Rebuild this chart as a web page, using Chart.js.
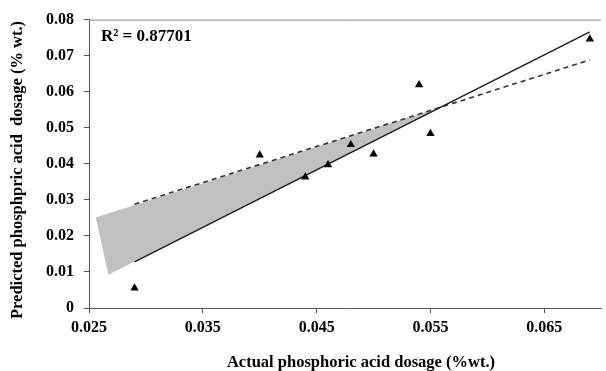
<!DOCTYPE html>
<html>
<head>
<meta charset="utf-8">
<script src="https://cdn.jsdelivr.net/npm/chart.js@4.4.1/dist/chart.umd.min.js"></script>
<style>
  html, body { margin: 0; padding: 0; background: #fff; }
  canvas { display: block; }
</style>
</head>
<body>
<canvas id="fit-chart" width="606" height="371"></canvas>
<script>
// Data
const actual = [0.029, 0.040, 0.044, 0.046, 0.048, 0.050, 0.054, 0.055, 0.069];
const predicted = [0.0055, 0.0424, 0.0363, 0.0397, 0.0453, 0.0427, 0.0619, 0.0484, 0.0746];

// fitted line (solid) and ideal / reference line (dashed)
const fitX = [0.029, 0.069];
const fitY = [0.0128, 0.0766];
const refY = [0.0288, 0.0688];

// grey band between the two lines
const bandX = [0.0256, 0.0267, 0.0559, 0.0256];
const bandY = [0.0251, 0.0092, 0.0557, 0.0251];

const xTicks = [0.025, 0.035, 0.045, 0.055, 0.065];
const yTicks = [0, 0.01, 0.02, 0.03, 0.04, 0.05, 0.06, 0.07, 0.08];
const rSquared = 'R² = 0.87701';
const xTitle = 'Actual phosphoric acid dosage (%wt.)';
const yTitle = 'Predicted phosphpric acid  dosage (% wt.)';

const FONT = '"Liberation Serif", "Times New Roman", serif';

const toPoints = (xs, ys) => xs.map((x, i) => ({ x: x, y: ys[i] }));

// Top border, R² label and axis titles
const extras = {
    id: 'extras',
    afterDraw(chart) {
        const { ctx, chartArea } = chart;
        ctx.save();
        ctx.strokeStyle = '#8a8a8a';
        ctx.lineWidth = 1;
        ctx.beginPath();
        ctx.moveTo(chartArea.left, chartArea.top + 0.5);
        ctx.lineTo(chartArea.right, chartArea.top + 0.5);
        ctx.stroke();

        ctx.fillStyle = '#000';
        ctx.font = 'bold 17px ' + FONT;
        ctx.textBaseline = 'middle';
        ctx.textAlign = 'left';
        ctx.fillText(rSquared, 101, 37);

        ctx.font = 'bold 16.5px ' + FONT;
        ctx.textAlign = 'center';
        ctx.fillText(xTitle, 361, 363);

        ctx.translate(18, 170);
        ctx.rotate(-Math.PI / 2);
        ctx.fillText(yTitle, 0, 0);
        ctx.restore();
    }
};

const ctx = document.getElementById('fit-chart');
new Chart(ctx, {
    type: 'scatter',
    data: {
        datasets: [
            {
                label: 'band',
                data: toPoints(bandX, bandY),
                showLine: true,
                borderWidth: 0,
                borderColor: 'rgba(0,0,0,0)',
                backgroundColor: '#c0c0c0',
                fill: 'shape',
                pointRadius: 0,
                tension: 0,
                order: 10
            },
            {
                label: 'reference',
                data: toPoints(fitX, refY),
                showLine: true,
                borderColor: '#333',
                borderWidth: 1.6,
                borderDash: [5, 4],
                pointRadius: 0,
                fill: false,
                order: 5
            },
            {
                label: 'fit',
                data: toPoints(fitX, fitY),
                showLine: true,
                borderColor: '#1a1a1a',
                borderWidth: 1.3,
                pointRadius: 0,
                fill: false,
                order: 4
            },
            {
                label: 'data',
                data: toPoints(actual, predicted),
                pointStyle: 'triangle',
                pointRadius: 4.8,
                backgroundColor: '#000',
                borderColor: '#000',
                borderWidth: 0,
                order: 1
            }
        ]
    },
    options: {
        responsive: false,
        animation: false,
        layout: { padding: { top: 16, left: 0, right: 0, bottom: 0 } },
        plugins: {
            legend: { display: false },
            tooltip: { enabled: false }
        },
        scales: {
            x: {
                type: 'linear',
                min: 0.025,
                max: 0.07,
                afterBuildTicks: (axis) => { axis.ticks = xTicks.map(v => ({ value: v })); },
                afterFit: (axis) => { axis.height = 63; },
                grid: { display: true, drawOnChartArea: false, drawTicks: true, tickLength: 5, color: '#555' },
                border: { display: true, color: '#555', width: 1 },
                ticks: {
                    padding: 5,
                    color: '#000',
                    font: { family: FONT, size: 16, weight: 'bold' },
                    callback: (v) => v.toFixed(3)
                }
            },
            y: {
                min: 0,
                max: 0.08,
                afterBuildTicks: (axis) => { axis.ticks = yTicks.map(v => ({ value: v })); },
                afterFit: (axis) => { axis.width = 89; },
                grid: { display: true, drawOnChartArea: false, drawTicks: true, tickLength: 5, color: '#555' },
                border: { display: true, color: '#555', width: 1 },
                ticks: {
                    padding: 10,
                    color: '#000',
                    font: { family: FONT, size: 16, weight: 'bold' },
                    callback: (v) => v === 0 ? '0' : v.toFixed(2)
                }
            }
        }
    },
    plugins: [extras]
});
</script>
</body>
</html>
